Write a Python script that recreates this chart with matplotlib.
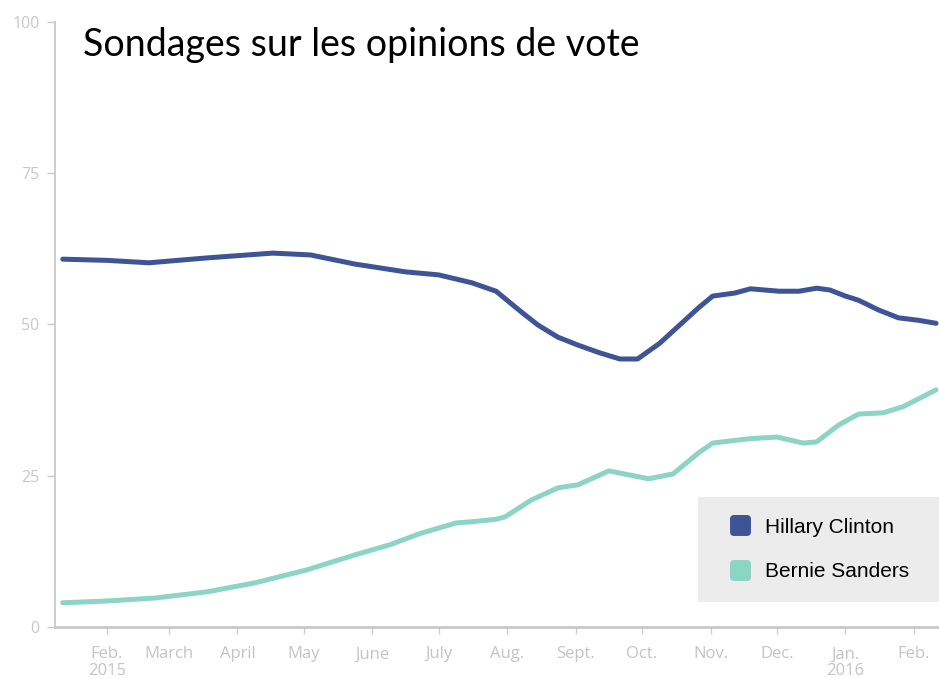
import numpy as np
import matplotlib
matplotlib.use("Agg")
import matplotlib.pyplot as plt
import matplotlib.dates as mdates
from matplotlib.lines import Line2D
from matplotlib.markers import MarkerStyle

# poll data
clinton_dates = ["2015-01-12", "2015-02-01", "2015-02-20", "2015-03-18", "2015-04-17",
                 "2015-05-04", "2015-05-24", "2015-06-16", "2015-07-01", "2015-07-16",
                 "2015-07-27", "2015-08-08", "2015-08-15", "2015-08-24", "2015-09-02",
                 "2015-09-12", "2015-09-21", "2015-09-29", "2015-10-09", "2015-10-18",
                 "2015-10-27", "2015-11-02", "2015-11-12", "2015-11-19", "2015-12-02",
                 "2015-12-11", "2015-12-19", "2015-12-25", "2016-01-01", "2016-01-07",
                 "2016-01-16", "2016-01-25", "2016-02-03", "2016-02-11"]
clinton = [60.8, 60.6, 60.2, 61.0, 61.8, 61.5, 60.0, 58.7, 58.2, 56.9,
           55.5, 51.9, 49.9, 47.9, 46.6, 45.3, 44.3, 44.3, 46.9, 49.9,
           52.9, 54.7, 55.2, 55.9, 55.5, 55.5, 56.0, 55.7, 54.7, 54.0,
           52.4, 51.1, 50.7, 50.2]

sanders_dates = ["2015-01-12", "2015-02-01", "2015-02-23", "2015-03-18", "2015-04-09",
                 "2015-05-02", "2015-05-24", "2015-06-09", "2015-06-23", "2015-07-09",
                 "2015-07-16", "2015-07-27", "2015-07-31", "2015-08-12", "2015-08-24",
                 "2015-09-02", "2015-09-16", "2015-10-04", "2015-10-15", "2015-10-27",
                 "2015-11-02", "2015-11-18", "2015-12-01", "2015-12-13", "2015-12-19",
                 "2015-12-29", "2016-01-07", "2016-01-18", "2016-01-27", "2016-02-11"]
sanders = [4.0, 4.3, 4.8, 5.8, 7.3, 9.4, 11.9, 13.6, 15.5, 17.2,
           17.4, 17.8, 18.2, 21.0, 23.0, 23.5, 25.8, 24.5, 25.3, 28.9,
           30.4, 31.1, 31.4, 30.4, 30.6, 33.4, 35.2, 35.4, 36.4, 39.2]

month_ticks = ["2015-02-01", "2015-03-01", "2015-04-01", "2015-05-01", "2015-06-01",
               "2015-07-01", "2015-08-01", "2015-09-01", "2015-10-01", "2015-11-01",
               "2015-12-01", "2016-01-01", "2016-02-01"]
month_labels = ["Feb.\n2015", "March", "April", "May", "June", "July", "Aug.",
                "Sept.", "Oct.", "Nov.", "Dec.", "Jan.\n2016", "Feb."]
y_ticks = [0, 25, 50, 75, 100]

blue = "#3e5497"
teal = "#8cd4c5"
grey = "#c9c9c9"

fig = plt.figure(figsize=(9.39, 6.79), dpi=100)
ax = fig.add_axes([55/939, 52/679, 884/939, 605/679])

ax.plot(np.array(clinton_dates, dtype="datetime64[D]"), clinton, color=blue, lw=3.6,
        solid_joinstyle="round", solid_capstyle="round", label="Hillary Clinton")
ax.plot(np.array(sanders_dates, dtype="datetime64[D]"), sanders, color=teal, lw=3.6,
        solid_joinstyle="round", solid_capstyle="round", label="Bernie Sanders")

ax.set_xlim(mdates.date2num(np.datetime64("2015-01-08T12")),
            mdates.date2num(np.datetime64("2016-02-12T08")))
ax.set_ylim(0, 100)

ax.set_xticks(mdates.date2num(np.array(month_ticks, dtype="datetime64[D]")))
ax.set_xticklabels(month_labels, family="Open Sans", fontsize=12, color="#c4c4c4",
                   linespacing=1.05)
ax.set_yticks(y_ticks)
ax.set_yticklabels([str(v) for v in y_ticks], family="Open Sans", fontsize=11.5,
                   color="#c8c8c8")
ax.tick_params(axis="x", length=5, width=1, color="#c5cde0", pad=9)
ax.tick_params(axis="y", length=6, width=1, color=grey, pad=5)

for s in ["top", "right"]:
    ax.spines[s].set_visible(False)
ax.spines["left"].set_color(grey)
ax.spines["left"].set_linewidth(1.3)
ax.spines["bottom"].set_color(grey)
ax.spines["bottom"].set_linewidth(2)

fig.text(83/939, 1 - 45/679, "Sondages sur les opinions de vote", family="Lato",
         fontsize=27, color="black", va="center", ha="left")

sq = MarkerStyle("s", joinstyle="round")
handles = [Line2D([], [], ls="none", marker=sq, markersize=10, mew=5, color=blue),
           Line2D([], [], ls="none", marker=sq, markersize=10, mew=5, color=teal)]
leg = ax.legend(handles, ["Hillary Clinton", "Bernie Sanders"], loc="lower left",
                bbox_to_anchor=(643/884, 25/605, 241/884, 108/605), mode="expand",
                frameon=True, fancybox=False,
                prop={"family": "Liberation Sans", "size": 15}, handlelength=2.0,
                handletextpad=0.2, labelspacing=1.22, borderpad=1.0, borderaxespad=0)
leg.get_frame().set_facecolor("#ececec")
leg.get_frame().set_edgecolor("none")
leg.get_frame().set_alpha(1)

fig.savefig("out.png", dpi=100)
